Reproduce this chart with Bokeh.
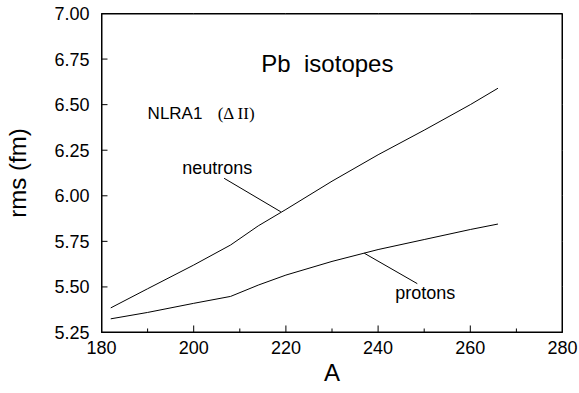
from bokeh.plotting import figure
from bokeh.models import Range1d, FixedTicker, PrintfTickFormatter, Label
from bokeh.embed import file_html
from bokeh.resources import INLINE

# Data
A = [182, 190, 200, 208, 214, 220, 230, 240, 250, 260, 266]
rms_neutrons = [5.385, 5.49, 5.62, 5.73, 5.835, 5.925, 6.08, 6.225, 6.36, 6.50, 6.59]
rms_protons = [5.325, 5.36, 5.41, 5.448, 5.51, 5.565, 5.64, 5.705, 5.76, 5.815, 5.845]

x_ticks = [180, 200, 220, 240, 260, 280]
x_minor = [190, 210, 230, 250, 270]
y_ticks = [5.25, 5.50, 5.75, 6.00, 6.25, 6.50, 6.75, 7.00]
x_min, x_max = 180, 280
y_min, y_max = 5.25, 7.00

title_text = "Pb\u00a0\u00a0isotopes"
model_text = "NLRA1"
model_sub = "(\u0394 II)"
label_n = "neutrons"
label_p = "protons"
x_title = "A"
y_title = "rms (fm)"

# annotation anchors (data coordinates)
title_pos = (229.0, 6.727)
model_pos = (190.0, 6.450)
model_sub_pos = (205.2, 6.450)
label_n_pos = (197.5, 6.154)
label_p_pos = (243.7, 5.465)
pointer_n = ([206.6, 218.9], [6.096, 5.912])
pointer_p = ([237.0, 248.5], [5.685, 5.518])

# tick lengths (style, in axis units)
X_MAJOR_LEN = 0.0385
X_MINOR_LEN = 0.022
Y_MAJOR_LEN = 1.3

p = figure(width=579, height=393, output_backend="svg", toolbar_location=None,
           x_range=Range1d(x_min, x_max), y_range=Range1d(y_min, y_max),
           min_border_left=101, min_border_right=17, min_border_top=13, min_border_bottom=61)
p.outline_line_color = "black"
p.outline_line_width = 1
p.grid.grid_line_color = "white"

FONT = "Liberation Sans"
for ax in (p.xaxis[0], p.yaxis[0]):
    ax.axis_line_color = "black"
    ax.major_tick_line_color = None
    ax.minor_tick_line_color = None
    ax.major_tick_in = 0
    ax.major_tick_out = 0
    ax.minor_tick_in = 0
    ax.minor_tick_out = 0
    ax.major_label_text_font = FONT
    ax.major_label_text_font_size = "18px"
    ax.major_label_text_color = "black"
    ax.axis_label_text_font = FONT
    ax.axis_label_text_font_style = "normal"
    ax.axis_label_text_font_size = "24px"
    ax.axis_label_text_color = "black"

p.xaxis.ticker = FixedTicker(ticks=x_ticks, minor_ticks=x_minor)
p.yaxis.ticker = FixedTicker(ticks=y_ticks, minor_ticks=[])
p.yaxis.formatter = PrintfTickFormatter(format="%.2f")
p.xaxis.major_label_standoff = 8
p.yaxis.major_label_standoff = 12
p.xaxis.axis_label = x_title
p.yaxis.axis_label = y_title
p.xaxis.axis_label_standoff = 2
p.yaxis.axis_label_standoff = 20

p.line(A, rms_neutrons, line_color="black", line_width=1)
p.line(A, rms_protons, line_color="black", line_width=1)

p.line(pointer_n[0], pointer_n[1], line_color="black", line_width=1)
p.line(pointer_p[0], pointer_p[1], line_color="black", line_width=1)

# frame box and inward ticks, drawn as line glyphs from the tick arrays
p.line([x_min, x_max, x_max, x_min, x_min], [y_min, y_min, y_max, y_max, y_min],
       line_color="black", line_width=2)
p.multi_line(xs=[[t, t] for t in x_ticks], ys=[[y_min, y_min + X_MAJOR_LEN] for _ in x_ticks],
             line_color="black", line_width=1)
p.multi_line(xs=[[t, t] for t in x_minor], ys=[[y_min, y_min + X_MINOR_LEN] for _ in x_minor],
             line_color="black", line_width=1)
p.multi_line(xs=[[x_min, x_min + Y_MAJOR_LEN] for _ in y_ticks], ys=[[t, t] for t in y_ticks],
             line_color="black", line_width=1)

def lab(pos, s, size, font=FONT, align="left"):
    p.add_layout(Label(x=pos[0], y=pos[1], text=s, text_font=font,
                       text_font_size=size, text_align=align, text_baseline="middle",
                       text_color="black"))

lab(title_pos, title_text, "24px", align="center")
lab(model_pos, model_text, "17px")
lab(model_sub_pos, model_sub, "17px", "Liberation Serif")
lab(label_n_pos, label_n, "18px")
lab(label_p_pos, label_p, "18px")

open("out.html", "w").write(file_html(p, INLINE))
